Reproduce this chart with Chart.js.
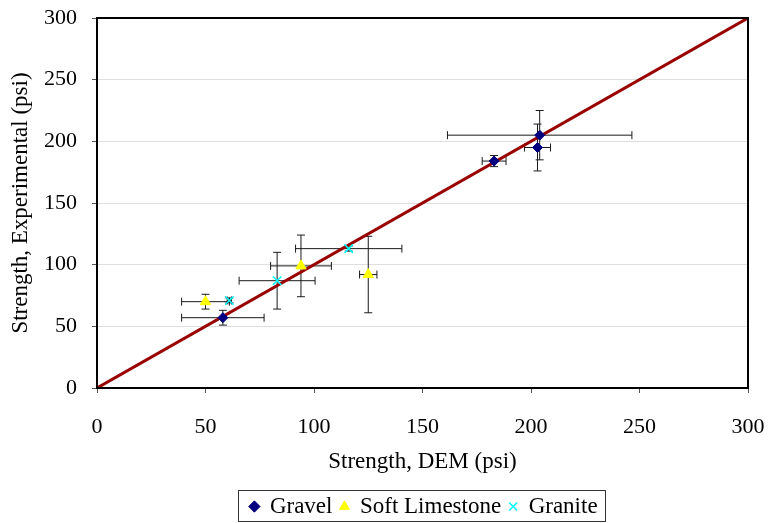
<!DOCTYPE html>
<html>
<head>
<meta charset="utf-8">
<script src="https://cdn.jsdelivr.net/npm/chart.js@4.4.1/dist/chart.umd.min.js"></script>
<style>
  html, body { margin: 0; padding: 0; background: #fff; }
  #wrap { width: 769px; height: 523px; }
</style>
</head>
<body>
<div id="wrap"><canvas id="strengthChart" width="769" height="523"></canvas></div>
<script>
// measured strength vs DEM prediction, psi
var gravelX = [58, 183, 204, 203];
var gravelY = [57, 184, 205, 195];
var gravelXErr = [19, 5.5, 42.5, 6];
var gravelYErr = [6, 4.5, 20, 19];

var limestoneX = [50, 94, 125];
var limestoneY = [70, 99, 92];
var limestoneXErr = [11, 14, 4];
var limestoneYErr = [6, 25, 31];

var graniteX = [61, 83, 116];
var graniteY = [71, 87, 113];
var graniteXErr = [1, 17.5, 24.5];
var graniteYErr = [2, 23, 2];

var unityLine = [0, 300];
var axisTicks = [0, 50, 100, 150, 200, 250, 300];

function toPoints(xs, ys, xe, ye) {
	var pts = [];
	for (var i = 0; i < xs.length; i++) {
		pts.push({x: xs[i], y: ys[i], xErr: xe[i], yErr: ye[i]});
	}
	return pts;
}

var serif = "'Liberation Serif', 'Times New Roman', serif";

// error bars are drawn under the markers
var errorBars = {
	id: 'errorBars',
	beforeDatasetsDraw: function(chart) {
		var ctx = chart.ctx;
		var xs = chart.scales.x, ys = chart.scales.y;
		var cap = 4;
		ctx.save();
		ctx.strokeStyle = '#1a1a1a';
		ctx.lineWidth = 1;
		chart.data.datasets.forEach(function(ds) {
			if (ds.type === 'line') return;
			ds.data.forEach(function(p) {
				var cx = xs.getPixelForValue(p.x), cy = ys.getPixelForValue(p.y);
				var x0 = xs.getPixelForValue(p.x - p.xErr), x1 = xs.getPixelForValue(p.x + p.xErr);
				var y0 = ys.getPixelForValue(p.y - p.yErr), y1 = ys.getPixelForValue(p.y + p.yErr);
				ctx.beginPath();
				ctx.moveTo(x0, cy); ctx.lineTo(x1, cy);
				ctx.moveTo(x0, cy - cap); ctx.lineTo(x0, cy + cap);
				ctx.moveTo(x1, cy - cap); ctx.lineTo(x1, cy + cap);
				ctx.moveTo(cx, y0); ctx.lineTo(cx, y1);
				ctx.moveTo(cx - cap, y0); ctx.lineTo(cx + cap, y0);
				ctx.moveTo(cx - cap, y1); ctx.lineTo(cx + cap, y1);
				ctx.stroke();
			});
		});
		ctx.restore();
	}
};

// legend sits centred under the plot rather than the canvas
var legendMove = {
	id: 'legendMove',
	afterLayout: function(chart) {
		var lg = chart.legend;
		lg.left += 50; lg.right += 50;
		lg.top += 5; lg.bottom += 5;
	}
};

// black frame round the plot and a box round the legend
var frames = {
	id: 'frames',
	afterDraw: function(chart) {
		var ctx = chart.ctx, a = chart.chartArea;
		ctx.save();
		ctx.strokeStyle = '#000';
		ctx.lineWidth = 2;
		ctx.strokeRect(a.left, a.top, a.right - a.left, a.bottom - a.top);
		var boxes = chart.legend.legendHitBoxes;
		if (boxes && boxes.length) {
			var minX = boxes[0].left, maxX = 0, minY = boxes[0].top, maxY = 0;
			boxes.forEach(function(b) {
				minX = Math.min(minX, b.left); maxX = Math.max(maxX, b.left + b.width);
				minY = Math.min(minY, b.top); maxY = Math.max(maxY, b.top + b.height);
			});
			ctx.lineWidth = 1;
			ctx.strokeStyle = '#333';
			ctx.strokeRect(Math.round(minX - 12) + 0.5, Math.round(minY - 5) + 0.5, Math.round(maxX - minX + 20), Math.round(maxY - minY + 8));
		}
		ctx.restore();
	}
};

new Chart(document.getElementById('strengthChart').getContext('2d'), {
	type: 'scatter',
	data: {
		datasets: [
			{
				label: 'Gravel',
				data: toPoints(gravelX, gravelY, gravelXErr, gravelYErr),
				pointStyle: 'rectRot',
				radius: 5,
				backgroundColor: '#000080',
				borderColor: '#000080',
				order: 1
			},
			{
				label: 'Soft Limestone',
				data: toPoints(limestoneX, limestoneY, limestoneXErr, limestoneYErr),
				pointStyle: 'triangle',
				radius: 6,
				backgroundColor: '#ffff00',
				borderColor: '#ffff00',
				order: 2
			},
			{
				label: 'Granite',
				data: toPoints(graniteX, graniteY, graniteXErr, graniteYErr),
				pointStyle: 'crossRot',
				radius: 6,
				borderWidth: 1.5,
				backgroundColor: '#00ffff',
				borderColor: '#00ffff',
				order: 3
			},
			{
				type: 'line',
				label: 'unity',
				data: unityLine.map(function(v) { return {x: v, y: v}; }),
				borderColor: '#990000',
				borderWidth: 3,
				pointRadius: 0,
				fill: false,
				order: 10
			}
		]
	},
	options: {
		responsive: false,
		animation: false,
		layout: { padding: { top: 18, right: 21, left: 0, bottom: 0 } },
		plugins: {
			tooltip: { enabled: false },
			legend: {
				position: 'bottom',
				labels: {
					usePointStyle: true,
					boxWidth: 8,
					boxHeight: 8,
					padding: 8,
					color: '#000',
					font: { family: serif, size: 23 },
					filter: function(item) { return item.text !== 'unity'; }
				}
			}
		},
		scales: {
			x: {
				type: 'linear',
				min: 0,
				max: 300,
				afterBuildTicks: function(s) { s.ticks = axisTicks.map(function(v) { return {value: v}; }); },
				afterFit: function(s) { s.height = 94; s.paddingLeft = 0; s.paddingRight = 0; },
				grid: { drawOnChartArea: false, tickLength: 5, color: '#000', tickColor: '#555' },
				border: { color: '#000', width: 2 },
				ticks: { color: '#000', padding: 21, maxRotation: 0, font: { family: serif, size: 22 } },
				title: { display: true, text: 'Strength, DEM (psi)', color: '#000', padding: { top: 4, bottom: 6 }, font: { family: serif, size: 23 } }
			},
			y: {
				type: 'linear',
				min: 0,
				max: 300,
				afterBuildTicks: function(s) { s.ticks = axisTicks.map(function(v) { return {value: v}; }); },
				afterFit: function(s) { s.width = 97; s.paddingTop = 0; s.paddingBottom = 0; },
				grid: { color: '#dedede', tickLength: 5, tickColor: '#555' },
				border: { color: '#000', width: 2 },
				ticks: { color: '#000', padding: 15, font: { family: serif, size: 22 } },
				title: { display: true, text: 'Strength, Experimental (psi)', color: '#000', padding: { top: 7, bottom: 5 }, font: { family: serif, size: 23 } }
			}
		}
	},
	plugins: [errorBars, legendMove, frames]
});
</script>
</body>
</html>
